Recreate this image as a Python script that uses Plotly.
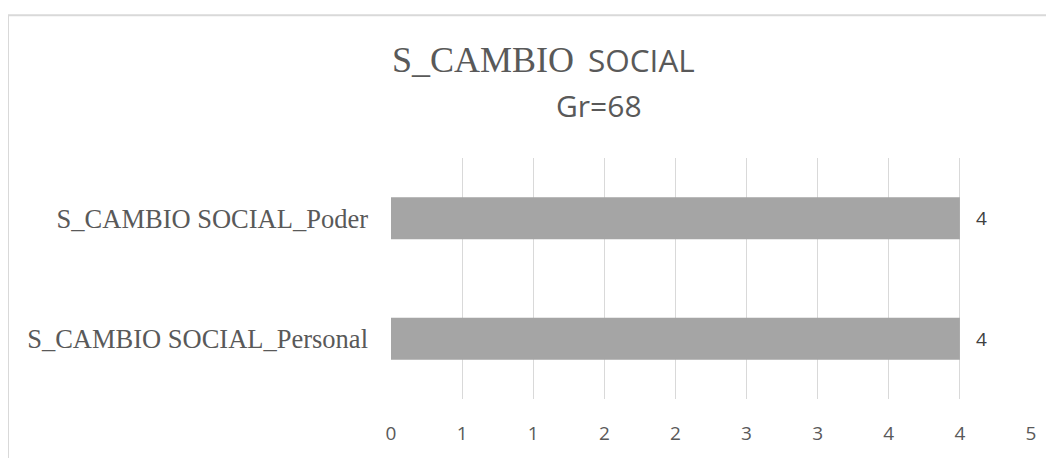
import plotly.graph_objects as go

# data
categories = ["S_CAMBIO SOCIAL_Personal", "S_CAMBIO SOCIAL_Poder"]
values = [4, 4]
tick_values = [0, 0.5, 1, 1.5, 2, 2.5, 3, 3.5, 4, 4.5]
tick_labels = ["0", "1", "1", "2", "2", "3", "3", "4", "4", "5"]
title_main = "S_CAMBIO SOCIAL"
title_sub = "Gr=68"

# page offset (body margin) is 8px
OFF = 8
W, H = 1054 - OFF, 458 - OFF
L, R, T, B = 383, 23, 150, 55
pw, ph = W - L - R, H - T - B

def px(x):
    return (x - OFF - L) / pw

def py(y):
    return (H - B - (y - OFF)) / ph

bars = go.Bar(
    x=values,
    y=categories,
    orientation='h',
    width=0.35,
    marker=dict(color='#a5a5a5', line=dict(width=0)),
    hoverinfo='skip',
    showlegend=False,
)

fig = go.Figure(data=[bars])

# value labels to the right of the bars
for v, c in zip(values, categories):
    fig.add_annotation(x=v, y=c, xref='x', yref='y', text=str(v),
                       showarrow=False, xanchor='left', xshift=14,
                       font=dict(family='Open Sans', size=19, color='#404040'))

# two-line title, first word in serif
first, rest = title_main.split(' ', 1)
fig.add_annotation(
    x=px(576), y=py(58), xref='paper', yref='paper', showarrow=False,
    text=first, font=dict(family='Liberation Serif', size=36, color='#595959'),
    xanchor='right', yanchor='middle')
fig.add_annotation(
    x=px(586), y=py(58), xref='paper', yref='paper', showarrow=False,
    text=rest, font=dict(family='Open Sans', size=31.5, color='#595959'),
    xanchor='left', yanchor='middle')
fig.add_annotation(
    x=px(599), y=py(105), xref='paper', yref='paper', showarrow=False,
    text=title_sub,
    font=dict(family='Open Sans', size=30, color='#595959'),
    xanchor='center', yanchor='middle')

# chart border (cropped on the right and bottom)
fig.add_shape(type='rect', xref='paper', yref='paper',
              x0=px(8), y0=py(H + 60), x1=px(1054 + 40), y1=py(13),
              line=dict(color='#d9d9d9', width=2), fillcolor='rgba(0,0,0,0)',
              layer='below')

fig.update_layout(
    width=W, height=H, autosize=False,
    margin=dict(l=L, r=R, t=T, b=B),
    paper_bgcolor='white', plot_bgcolor='white',
)
fig.update_xaxes(
    range=[0, 4.5], tickvals=tick_values, ticktext=tick_labels,
    showgrid=True, gridcolor='#d9d9d9', gridwidth=1.3,
    zeroline=False, showline=False, ticks='',
    ticklabelstandoff=21,
    tickfont=dict(family='Open Sans', size=19, color='#595959'),
)
fig.update_yaxes(
    range=[-0.5, 1.5], showgrid=False, zeroline=False, showline=False,
    ticks='', ticklabelstandoff=22,
    tickfont=dict(family='Liberation Serif', size=26.5, color='#595959'),
)

fig.write_html("out.html")
